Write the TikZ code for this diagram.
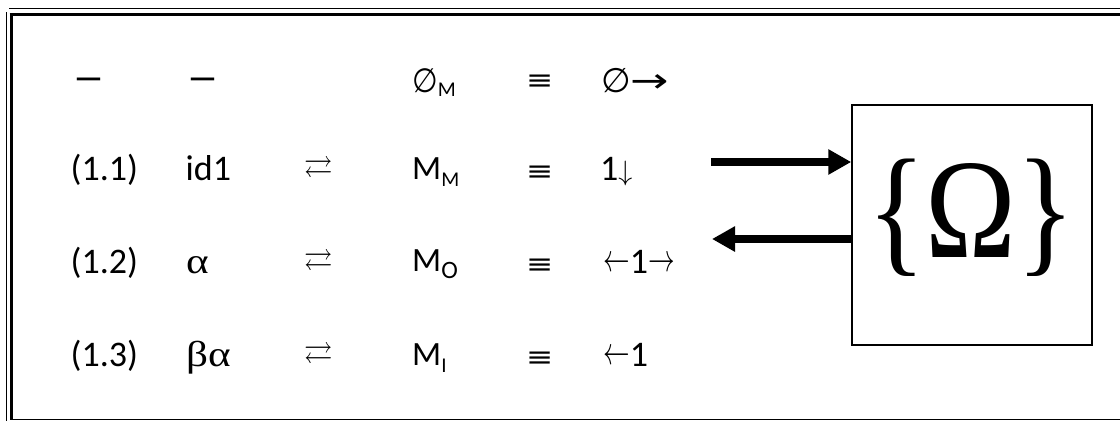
\RequirePackage{fix-cm}
\documentclass[tikz,border=0pt]{standalone}
\usepackage{fontspec}
\usepackage{amssymb}
\setmainfont{Carlito}
\newfontfamily\wideserif{Liberation Serif}[FakeStretch=1.2]
\newfontfamily\symf{DejaVu Sans}
\newfontfamily\bigserif{Liberation Serif}
\usetikzlibrary{arrows.meta}

% thin arrows and symbols taken from the math fonts
\newcommand{\larr}{\raisebox{1.5pt}{\fontsize{28}{28}\selectfont\scalebox{0.95}[1.4]{$\leftarrow$}}}
\newcommand{\rarr}{\raisebox{1.5pt}{\fontsize{28}{28}\selectfont\scalebox{0.95}[1.4]{$\rightarrow$}}}
\newcommand{\darr}{{\fontsize{28}{28}\selectfont$\downarrow$}}
\newcommand{\swap}{\raisebox{3pt}{\fontsize{30}{30}\selectfont\scalebox{0.95}[1.05]{$\rightleftarrows$}}}
\newcommand{\equivsym}{{\symf\fontsize{27}{27}\selectfont\scalebox{1.2}[1]{≡}}}

\begin{document}
\begin{tikzpicture}[x=1pt,y=-1pt,
  txt/.style={anchor=base west, inner sep=0pt, font=\fontsize{36}{36}\selectfont},
  mtxt/.style={anchor=base west, inner sep=0pt, font=\fontsize{34}{34}\selectfont},
  greek/.style={anchor=base west, inner sep=0pt, font=\wideserif\fontsize{36}{36}\selectfont},
  sym/.style={anchor=base west, inner sep=0pt},
  omegabox/.style={draw, line width=1.5pt, minimum width=240pt, minimum height=240pt, inner sep=0pt},
  omegatext/.style={anchor=base, inner sep=0pt, font=\bigserif\fontsize{142}{142}\selectfont},
  bigarrow/.style={line width=8pt, -{Triangle[length=23pt,width=24pt]}},
  thinframe/.style={line width=1.3pt},
  thickframe/.style={line width=2.6pt}]
\useasboundingbox (0,0) rectangle (1120,421);

% double frame on the top and left, single rule at the bottom
\draw[thinframe] (9,8.3) -- (1120,8.3);
\draw[thickframe] (9.5,14.5) -- (1120,14.5);
\draw[thinframe] (6.3,12) -- (6.3,421);
\draw[thickframe] (11.2,14.5) -- (11.2,419.5);
\draw[thinframe] (10,419.5) -- (1120,419.5);

% row 1
\node[txt, font=\bfseries\fontsize{32}{32}\selectfont] (r1a) at (74,88) {—};
\node[txt, font=\bfseries\fontsize{32}{32}\selectfont] (r1b) at (188,88) {—};
\node[sym] (r1m) at (412,92) {{\symf\fontsize{32}{32}\selectfont\scalebox{0.92}[1.05]{∅}}\raisebox{-4pt}{\fontsize{21}{21}\selectfont M}};
\node[sym] (r1e) at (526,89) {\equivsym};
\node[sym, font=\symf\fontsize{34}{34}\selectfont] (r1r) at (601,92) {∅\scalebox{1.35}[1]{→}};

% row 2
\node[txt] (r2a) at (70.5,180) {(1.1)};
\node[txt] (r2b) at (185.5,180) {id1};
\node[sym] (r2c) at (304,180) {\swap};
\node[mtxt] (r2m) at (412,179) {M\raisebox{-7pt}{\fontsize{21}{21}\selectfont M}};
\node[sym] (r2e) at (526,180) {\equivsym};
\node[txt] (r2r) at (600,180) {1\darr};

% row 3
\node[txt] (r3a) at (70.5,273) {(1.2)};
\node[greek] (r3b) at (186,273) {α};
\node[sym] (r3c) at (304,273) {\swap};
\node[mtxt] (r3m) at (412,271) {M\raisebox{-7pt}{\fontsize{25}{25}\selectfont O}};
\node[sym] (r3e) at (526,273) {\equivsym};
\node[txt] (r3r) at (603,273) {\larr 1\rarr};

% row 4
\node[txt] (r4a) at (70.5,366) {(1.3)};
\node[greek] (r4b) at (186,366) {βα};
\node[sym] (r4c) at (304,366) {\swap};
\node[mtxt] (r4m) at (412,365) {M\raisebox{-7pt}{\fontsize{21}{21}\selectfont I}};
\node[sym] (r4e) at (526,366) {\equivsym};
\node[txt] (r4r) at (603,366) {\larr 1};

% the Omega box, its label and its two arrows
\node[omegabox] (box) at (972,225) {};
\node[omegatext] (omega) at (971,257) {\scalebox{0.86}[1]{\{Ω\}}};
\coordinate (inStart) at (711,162);
\coordinate (outEnd) at (712,239);
\draw[bigarrow] (inStart) -- (inStart -| box.west);
\draw[bigarrow] (outEnd -| box.west) -- (outEnd);
\end{tikzpicture}
\end{document}
